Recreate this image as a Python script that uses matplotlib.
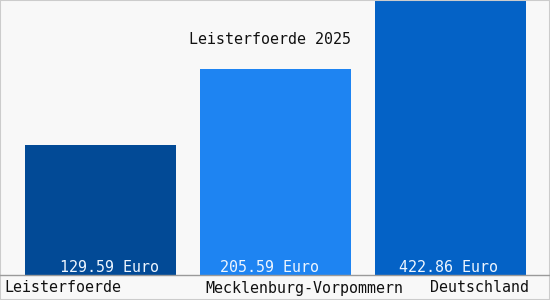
import matplotlib.pyplot as plt
from matplotlib.patches import Rectangle

# data
categories = ["Leisterfoerde", "Mecklenburg-Vorpommern", "Deutschland"]
values = [129.59, 205.59, 422.86]
value_labels = ["129.59 Euro", "205.59 Euro", "422.86 Euro"]
title = "Leisterfoerde 2025"

colors = ["#024a96", "#1e84f2", "#0462c6"]
# text placement (in bar units) picked to match the reference
label_x = [-0.551, 0.597, 1.883]
value_x = [0.049, 0.966, 1.989]

plt.rcParams["font.family"] = ["DejaVu Sans Mono"]

fig = plt.figure(figsize=(5.5, 3.0), dpi=100)
fig.patch.set_facecolor("#f8f8f8")
fig.patches.append(Rectangle((0, 0), 1, 1, transform=fig.transFigure,
                             fill=False, edgecolor="#cccccc", lw=1.5))

ax = fig.add_axes([0, 25 / 300, 1, 275 / 300])
ax.set_facecolor("none")
x = range(len(categories))
ax.bar(x, values, width=0.863, color=colors)
ax.set_xlim(-0.574, 2.569)
ax.set_ylim(0, 275)
ax.axis("off")

# baseline
fig.add_artist(plt.Line2D([0, 1], [25 / 300, 25 / 300], color="#9a9a9a", lw=1))

for i, txt in enumerate(value_labels):
    ax.text(value_x[i], 7, txt, ha="center", va="center", color="#eef6ff",
            fontsize=10.8)

for i, cat in enumerate(categories):
    ax.text(label_x[i], -13, cat, ha="left", va="center",
            color="#111111", fontsize=10.8, clip_on=False)

fig.text(270 / 550, 1 - 39 / 300, title, ha="center", va="center",
         color="#111111", fontsize=10.8)

fig.savefig("out.png", dpi=100, facecolor=fig.get_facecolor())
